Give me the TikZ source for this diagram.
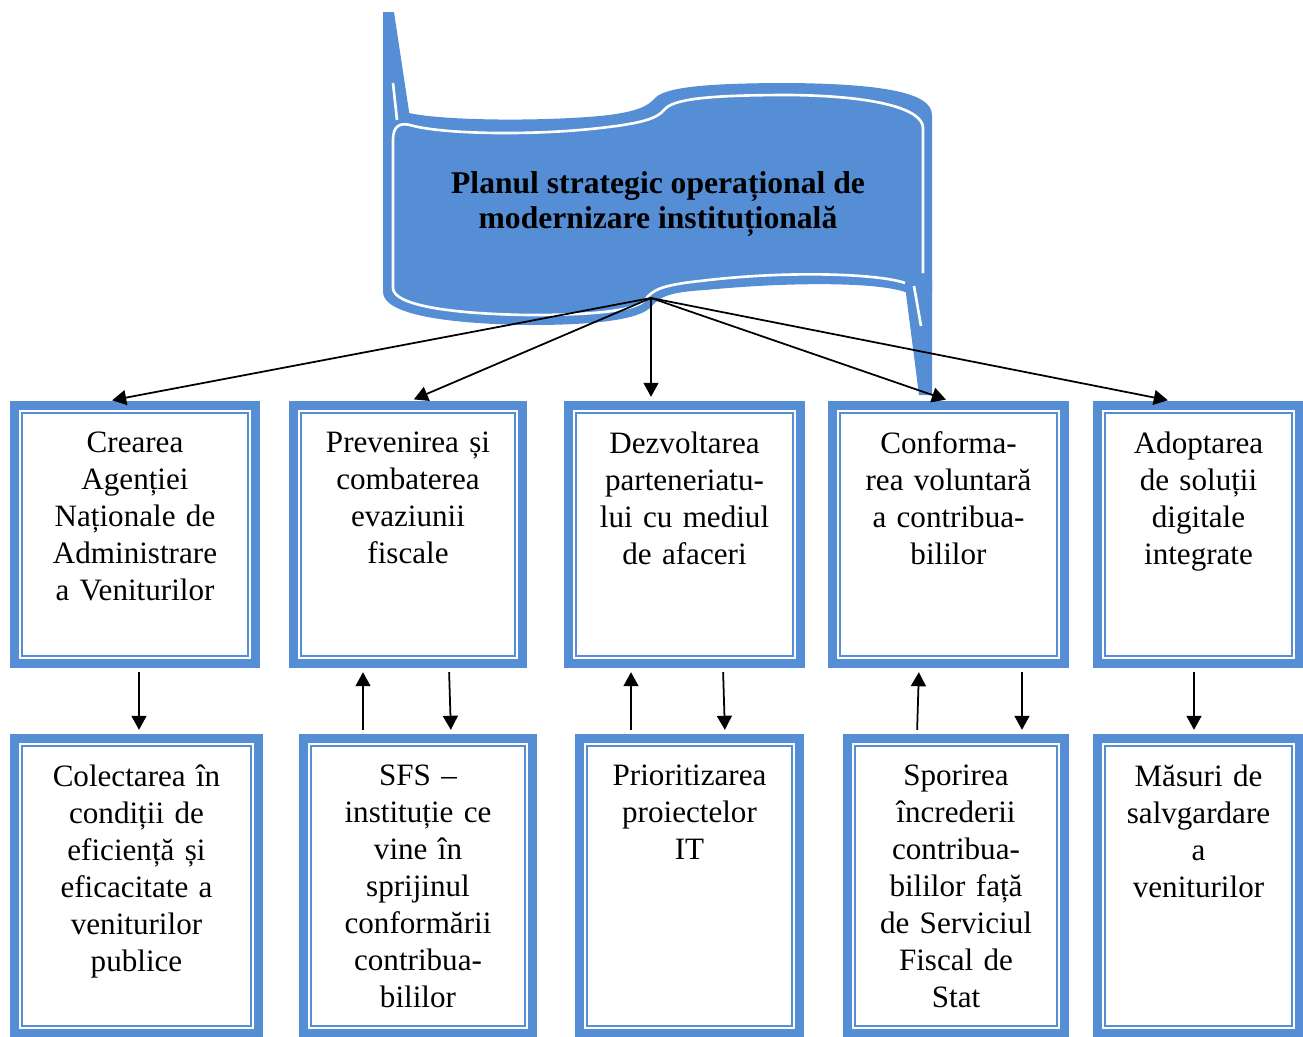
\documentclass[tikz,border=0pt]{standalone}
\usepackage{fontspec}
\setmainfont{Liberation Serif}
\usetikzlibrary{arrows.meta}
\definecolor{bannerblue}{RGB}{85,142,213}

\begin{document}
\begin{tikzpicture}[x=0.02cm,y=-0.02cm,semithick]
   \tikzstyle{box}=[draw=bannerblue,line width=5.1pt,fill=white,inner sep=0pt,
      path picture={\draw[bannerblue,line width=1.1pt]
         ([xshift=4.3pt,yshift=-4.3pt]path picture bounding box.north west) rectangle
         ([xshift=-4.3pt,yshift=4.3pt]path picture bounding box.south east);}]
   \tikzstyle{txt}=[anchor=north,inner sep=0pt,text width=4cm,align=center,
      font=\fontsize{17.7}{21}\selectfont]
   \tikzstyle{arr}=[-{Triangle[length=8pt,width=8.5pt]},line width=1pt,shorten >=2.4pt]

   \useasboundingbox (0,0) rectangle (1303,1036);

   % banner
   \fill[bannerblue] (383,12) -- (394,12) -- (410,118) -- (383,118) -- cycle;
   \fill[bannerblue] (905,286) -- (932,280) -- (932,395) -- (919,395) -- cycle;
   \fill[bannerblue] (383,112) -- (383,292)
      .. controls (383,315) and (450,324) .. (530,325)
      .. controls (605,325) and (642,318) .. (652,306)
      .. controls (660,296) and (672,292) .. (705,290)
      .. controls (800,281) and (880,283) .. (905,292)
      -- (932,292) -- (932,115)
      .. controls (932,92) and (880,84) .. (790,83)
      .. controls (700,83) and (665,88) .. (655,98)
      .. controls (648,106) and (638,112) .. (600,116)
      .. controls (530,122) and (440,120) .. (409,113) -- cycle;
   \draw[white,line width=1.5pt] (923,273) -- (923,128)
      .. controls (923,110) and (880,96) .. (790,95)
      .. controls (700,95) and (672,100) .. (664,110)
      .. controls (657,118) and (645,123) .. (600,128)
      .. controls (530,136) and (440,134) .. (410,125)
      .. controls (398,122) and (393,128) .. (393,140)
      -- (393,288)
      .. controls (393,305) and (450,314) .. (530,315)
      .. controls (600,315) and (635,310) .. (645,300)
      .. controls (652,290) and (662,285) .. (700,281)
      .. controls (790,270) and (880,274) .. (905,283);
   \draw[white,line width=1.5pt] (393,83) -- (397,120);
   \draw[white,line width=1.5pt] (914,286) -- (921,326);

   \node[font=\bfseries\fontsize{18}{20}\selectfont,align=center] (T) at (658,204)
      {Planul strategic operațional de\\modernizare instituțională};
   \coordinate (S) at (651,298);

   \node[box,minimum width=4.82cm,minimum height=5.16cm,
      label={[txt,yshift=-0.61cm]north:{Crearea\\Agenției\\Naționale de\\Administrare\\a Veniturilor}}]
      (A) at (135,534.5) {};
   \node[box,minimum width=4.58cm,minimum height=5.16cm,
      label={[txt,yshift=-0.61cm]north:{Prevenirea și\\combaterea\\evaziunii\\fiscale}}]
      (B) at (408,534.5) {};
   \node[box,minimum width=4.64cm,minimum height=5.16cm,
      label={[txt,yshift=-0.61cm]north:{Dezvoltarea\\parteneriatu-\\lui cu mediul\\de afaceri}}]
      (C) at (684.5,534.5) {};
   \node[box,minimum width=4.64cm,minimum height=5.16cm,
      label={[txt,yshift=-0.61cm]north:{Conforma-\\rea voluntară\\a contribua-\\bililor}}]
      (D) at (948.5,534.5) {};
   \node[box,minimum width=4.04cm,minimum height=5.16cm,
      label={[txt,yshift=-0.61cm]north:{Adoptarea\\de soluții\\digitale\\integrate}}]
      (E) at (1198.5,534.5) {};

   \node[box,minimum width=4.88cm,minimum height=5.9cm,
      label={[txt,yshift=-0.61cm]north:{Colectarea în\\condiții de\\eficiență și\\eficacitate a\\veniturilor\\publice}}]
      (F) at (136.5,886) {};
   \node[box,minimum width=4.58cm,minimum height=5.9cm,
      label={[txt,yshift=-0.61cm]north:{SFS –\\instituție ce\\vine în\\sprijinul\\conformării\\contribua-\\bililor}}]
      (G) at (418,886) {};
   \node[box,minimum width=4.4cm,minimum height=5.9cm,
      label={[txt,yshift=-0.61cm]north:{Prioritizarea\\proiectelor\\IT}}]
      (H) at (689.5,886) {};
   \node[box,minimum width=4.34cm,minimum height=5.9cm,
      label={[txt,yshift=-0.61cm]north:{Sporirea\\încrederii\\contribua-\\bililor față\\de Serviciul\\Fiscal de\\Stat}}]
      (I) at (956,886) {};
   \node[box,minimum width=4.04cm,minimum height=5.9cm,
      label={[txt,yshift=-0.61cm]north:{Măsuri de\\salvgardare\\a\\veniturilor}}]
      (J) at (1198.5,886) {};

   \path[arr] (S) edge ([xshift=-0.54cm]A.north)
                  edge ([xshift=0.04cm]B.north)
                  edge ([xshift=-0.67cm]C.north)
                  edge ([xshift=0.03cm]D.north)
                  edge ([xshift=-0.53cm]E.north);

   \path[arr,shorten <=2.4pt]
         ([xshift=0.08cm]A.south) edge ([xshift=0.05cm]F.north)
         ([xshift=-1.10cm]G.north) edge ([xshift=-0.90cm]B.south)
         ([xshift=0.82cm]B.south) edge ([xshift=0.66cm]G.north)
         ([xshift=-1.17cm]H.north) edge ([xshift=-1.07cm]C.south)
         ([xshift=0.77cm]C.south) edge ([xshift=0.71cm]H.north)
         ([xshift=-0.78cm]I.north) edge ([xshift=-0.59cm]D.south)
         ([xshift=1.47cm]D.south) edge ([xshift=1.32cm]I.north)
         ([xshift=-0.09cm]E.south) edge ([xshift=-0.09cm]J.north);
\end{tikzpicture}
\end{document}
